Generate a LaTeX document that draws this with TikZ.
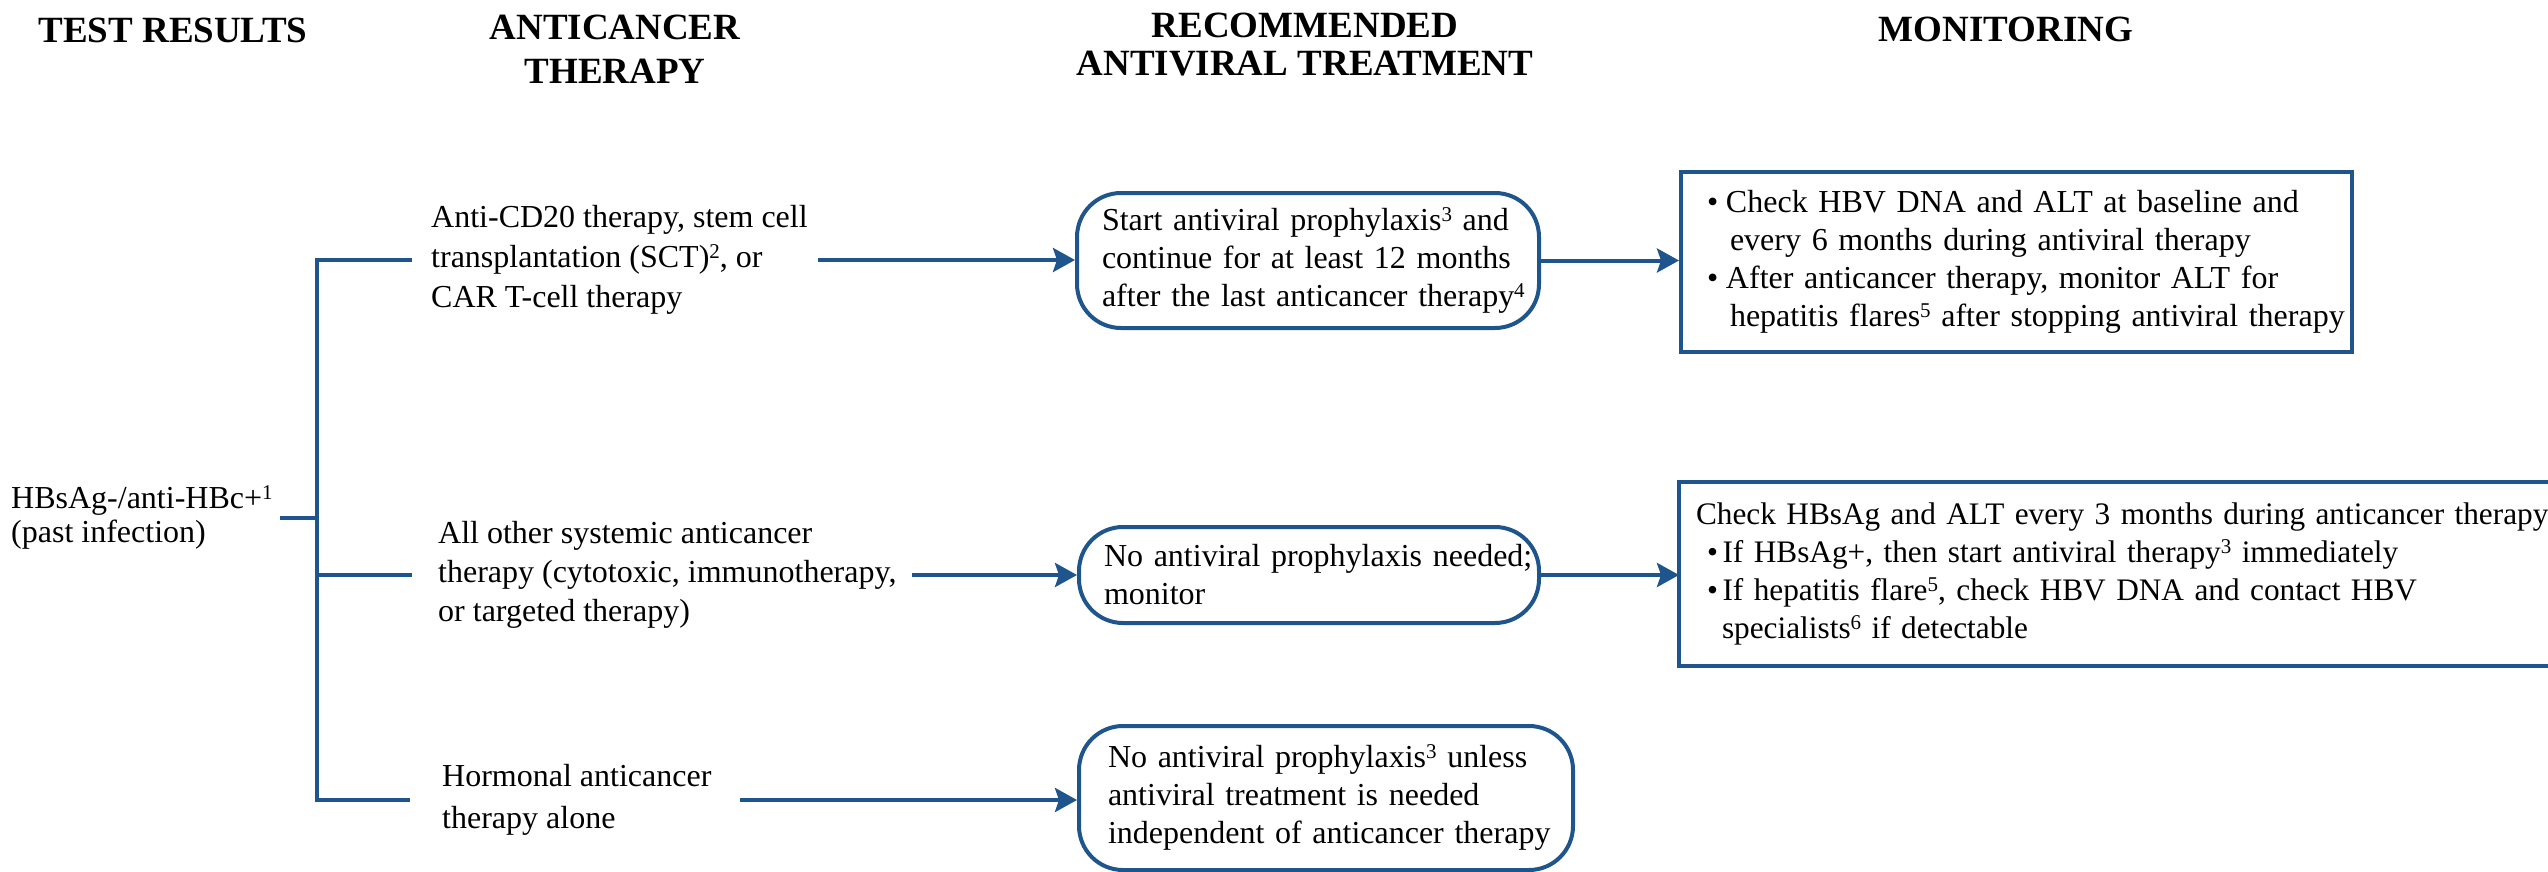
\documentclass[tikz,border=0pt]{standalone}
\usepackage{fontspec}
\setmainfont{Liberation Serif}
\usetikzlibrary{arrows.meta}
\definecolor{hbv}{RGB}{30,85,140}
\newcommand\sups[1]{\smash{\raisebox{9pt}{\fontsize{21}{21}\selectfont #1}}}
\newcommand\bul[1]{\makebox[#1][l]{\textbullet}}
\begin{document}
\begin{tikzpicture}[x=1pt,y=-1pt,
  head/.style={font=\fontsize{37}{44}\selectfont\bfseries, inner sep=0pt, align=center},
  body/.style={font=\fontsize{32}{38}\selectfont, inner sep=0pt, align=left},
  line/.style={draw=hbv, line width=4pt},
  arr/.style={line, -{Stealth[length=22pt,width=24pt,inset=4pt]}},
  rbox/.style={draw=hbv, line width=4pt, rounded corners=44pt, font=\fontsize{32}{38}\selectfont, align=left, inner ysep=0pt},
  mbox/.style={draw=hbv, line width=4pt, font=\fontsize{32}{38}\selectfont, align=left, inner ysep=0pt}]
\useasboundingbox (0,0) rectangle (2548,872);

% headers
\node[head, anchor=base] (h1) at (173,43) {TEST RESULTS};
\node[head] (h2) at (615,49) {ANTICANCER\\THERAPY};
\node[head, font=\fontsize{37}{38}\selectfont\bfseries] (h3) at (1305,45) {RECOMMENDED\\ANTIVIRAL TREATMENT};
\node[head, anchor=base] (h4) at (2006,42) {MONITORING};

% test result
\node[body, anchor=west, font=\fontsize{32}{34}\selectfont] (L) at (11,518) {HBsAg-/anti-HBc+\sups{1}\\(past infection)};

% anticancer therapy
\node[body, anchor=west, font=\fontsize{32}{40}\selectfont] (t1) at (431,260) {Anti-CD20 therapy, stem cell\\transplantation (SCT)\sups{2}, or\\CAR T-cell therapy};
\node[body, anchor=west, font=\fontsize{32}{39}\selectfont] (t2) at (438,575) {All other systemic anticancer\\therapy (cytotoxic, immunotherapy,\\or targeted therapy)};
\node[body, anchor=west, font=\fontsize{32}{42}\selectfont] (t3) at (442,800) {Hormonal anticancer\\therapy alone};

% recommended antiviral treatment
\node[rbox, text width=412pt, inner xsep=25pt, minimum height=135pt] (b1) at (1308,260.5)
  {\mbox{Start antiviral prophylaxis\sups{3} and}\\\mbox{continue for at least 12 months}\\\mbox{after the last anticancer therapy\sups{4}}};
\node[rbox, text width=410pt, inner xsep=25pt, minimum height=96pt] (b2) at (1309,575)
  {\mbox{No antiviral prophylaxis needed;}\\\mbox{monitor}};
\node[rbox, text width=436pt, inner xsep=29pt, minimum height=144pt] (b3) at (1326,798)
  {\mbox{No antiviral prophylaxis\sups{3} unless}\\\mbox{antiviral treatment is needed}\\\mbox{independent of anticancer therapy}};

% monitoring
\node[mbox, text width=619pt, inner xsep=26pt, minimum height=180pt] (m1) at (2016.5,262)
  {\mbox{\bul{19pt}Check HBV DNA and ALT at baseline and}\\\mbox{\hspace*{23pt}every 6 months during antiviral therapy}\\\mbox{\bul{19pt}After anticancer therapy, monitor ALT for}\\\mbox{\hspace*{23pt}hepatitis flares\sups{5} after stopping antiviral therapy}};
\node[mbox, draw=none, font=\fontsize{31.3}{38}\selectfont, text width=837pt, inner xsep=15pt, minimum height=180pt] (m2) at (2114.5,574)
  {\mbox{Check HBsAg and ALT every 3 months during anticancer therapy}\\\mbox{\hspace*{11pt}\bul{15.5pt}If HBsAg+, then start antiviral therapy\sups{3} immediately}\\\mbox{\hspace*{11pt}\bul{15.5pt}If hepatitis flare\sups{5}, check HBV DNA and contact HBV}\\\mbox{\hspace*{26pt}specialists\sups{6} if detectable}};
\draw[line] (m2.north east) -- (m2.north west) -- (m2.south west) -- (m2.south east);

% connectors
\coordinate (jx) at (317,518);
\draw[line] ([xshift=-19pt]t1.west) -| (jx) |- ([xshift=-32pt]t3.west);
\draw[line] ([xshift=7pt]L.east) -- (L.east -| jx);
\draw[line] ([xshift=-26pt]t2.west) -- (t2.west -| jx);
\draw[arr] ([xshift=10pt]t1.east) -- (t1.east -| b1.west);
\draw[arr] ([xshift=15pt]t2.east) -- (t2.east -| b2.west);
\draw[arr] ([xshift=28pt]t3.east) -- (t3.east -| b3.west);
\draw[arr] (b1.east) -- (b1.east -| m1.west);
\draw[arr] (b2.east) -- (b2.east -| m2.west);
\end{tikzpicture}
\end{document}
